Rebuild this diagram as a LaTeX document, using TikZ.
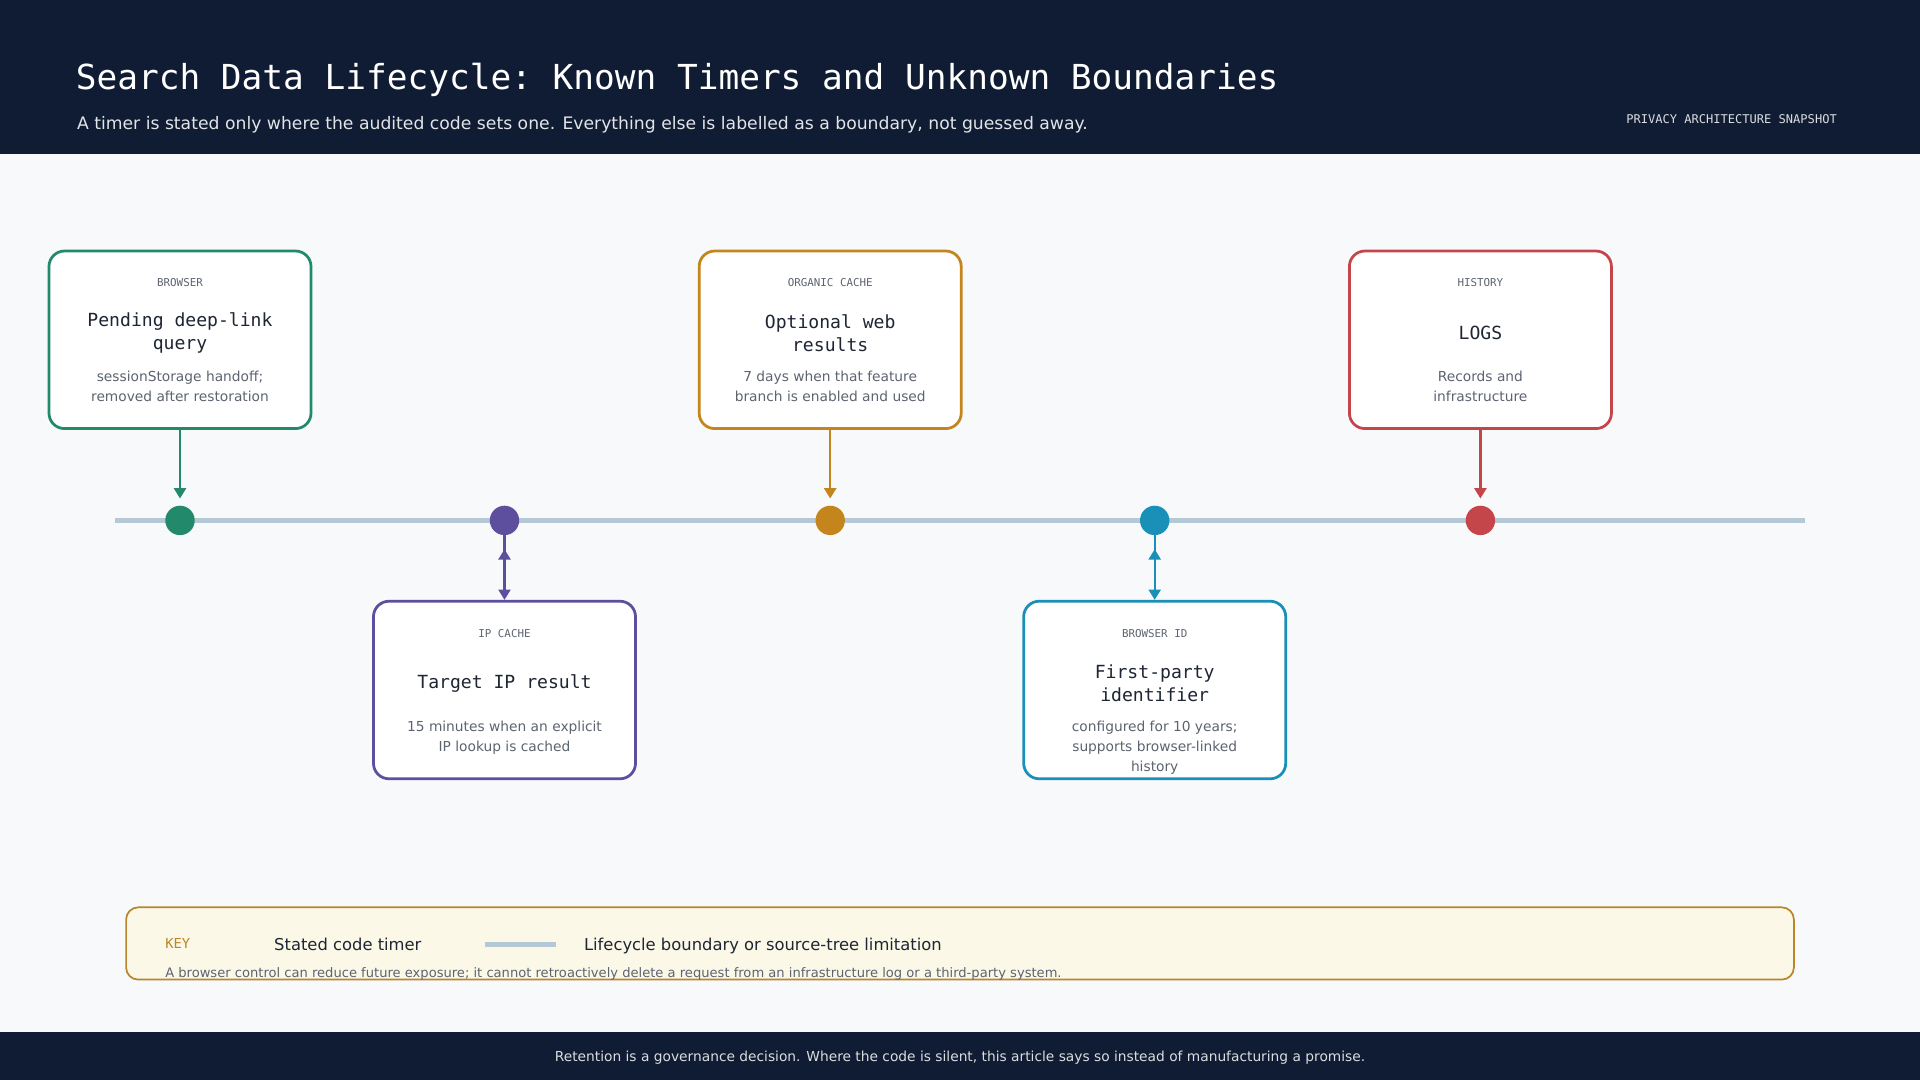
\documentclass[tikz,border=0pt]{standalone}
\usepackage{fontspec}
\setmainfont{DejaVu Sans}
\setmonofont{DejaVu Sans Mono}
\usetikzlibrary{arrows.meta}
\definecolor{navy}{HTML}{0F1C33}
\definecolor{paper}{HTML}{F7F9FB}
\definecolor{rail}{HTML}{B4C8D6}
\definecolor{ink}{HTML}{1E2633}
\definecolor{muted}{HTML}{5C6470}
\definecolor{cgreen}{HTML}{22896A}
\definecolor{cpurple}{HTML}{5E4F9E}
\definecolor{corange}{HTML}{C4851C}
\definecolor{cblue}{HTML}{1A8FB8}
\definecolor{cred}{HTML}{C4464B}
\definecolor{keyfill}{HTML}{FCF8E8}
\definecolor{keyline}{HTML}{B8862B}
\tikzset{
  stage/.style={draw=#1, line width=1.6pt, rounded corners=9pt, fill=white,
    minimum width=214*0.025cm, minimum height=145*0.025cm},
  cat/.style={font=\ttfamily\fontsize{6.3}{8}\selectfont, text=muted},
  ttl/.style={font=\ttfamily\fontsize{10.5}{13}\selectfont, text=ink, align=center},
  dsc/.style={font=\fontsize{8}{11.5}\selectfont, text=muted, align=center},
  dot/.style={circle, fill=#1, minimum size=24*0.025cm, inner sep=0pt},
  link/.style={draw=#1, line width=1.3pt, -{Triangle[length=6pt,width=7pt]}},
}
\begin{document}
\begin{tikzpicture}[x=0.025cm, y=-0.025cm]

 %background and bands
 \fill[paper] (0,0) rectangle (1568,882);
 \fill[navy] (0,0) rectangle (1568,126);
 \fill[navy] (0,843) rectangle (1568,882);
 \useasboundingbox (0,0) rectangle (1568,882);

 \node[anchor=base west, text=white, font=\ttfamily\fontsize{20}{24}\selectfont] (title) at (57,73) {Search Data Lifecycle: Known Timers and Unknown Boundaries};
 \node[anchor=base west, text=white!88!navy, font=\fontsize{10}{12}\selectfont] (subtitle) at (58,106) {A timer is stated only where the audited code sets one. Everything else is labelled as a boundary, not guessed away.};
 \node[anchor=base east, text=white!85!navy, font=\ttfamily\fontsize{7}{9}\selectfont] (tag) at (1505,101) {PRIVACY ARCHITECTURE SNAPSHOT};

 %timeline
 \coordinate (railL) at (94,425);
 \coordinate (railR) at (1474,425);
 \draw[rail, line width=3pt] (railL) -- (railR);

 %stages above the rail
 \foreach \x/\col/\name/\c/\t/\d in {
   147/cgreen/browser/BROWSER/{Pending deep-link\\query}/{sessionStorage handoff;\\removed after restoration},
   678/corange/organic/ORGANIC CACHE/{Optional web\\results}/{7 days when that feature\\branch is enabled and used},
   1209/cred/history/HISTORY / LOGS/{Records and\\infrastructure}/{no fixed duration found in\\repository; deployment and\\third parties unknown}}{
     \node[stage=\col] (\name) at (\x,277.5) {};
     \node[cat] (\name-c) at (\x,231) {\c};
     \node[ttl] (\name-t) at (\x,272) {\t};
     \node[dsc, anchor=north] (\name-d) at (\x,298) {\d};
     \node[dot=\col] (\name-p) at (\x,425) {};
     \draw[link=\col] (\name.south) -- ([yshift=4pt]\name-p.north);
 }

 %stages below the rail
 \foreach \x/\col/\name/\c/\t/\d in {
   412/cpurple/ipcache/IP CACHE/{Target IP result}/{15 minutes when an explicit\\IP lookup is cached},
   943/cblue/browserid/BROWSER ID/{First-party\\identifier}/{configured for 10 years;\\supports browser-linked\\history}}{
     \node[stage=\col] (\name) at (\x,563.5) {};
     \node[cat] (\name-c) at (\x,517) {\c};
     \node[ttl] (\name-t) at (\x,558) {\t};
     \node[dsc, anchor=north] (\name-d) at (\x,584) {\d};
     \node[dot=\col] (\name-p) at (\x,425) {};
     \draw[link=\col] (\name-p.south) ++(0,-8pt) coordinate (\name-s);
     \draw[link=\col] (\name-p.south) ++(0,-0pt) -- (\name.north);
 }

 %key
 \node[draw=keyline, line width=1pt, fill=keyfill, rounded corners=7pt,
   minimum width=1362*0.025cm, minimum height=59*0.025cm] (key) at (784,770.5) {};
 \node[anchor=base west, text=keyline, font=\ttfamily\fontsize{8}{10}\selectfont] (keyhead) at (130,775) {KEY};
 \node[anchor=base west, text=ink, font=\fontsize{9.5}{11}\selectfont] (keytimer) at (219,776) {Stated code timer};
 \coordinate (sampleL) at (396,771);
 \coordinate (sampleR) at (454,771);
 \draw[rail, line width=3pt] (sampleL) -- (sampleR);
 \node[anchor=base west, text=ink, font=\fontsize{9.5}{11}\selectfont] (keyrail) at (472,776) {Lifecycle boundary or source-tree limitation};
 \node[anchor=base west, text=muted, font=\fontsize{7.6}{9}\selectfont] (keynote) at (130,798) {A browser control can reduce future exposure; it cannot retroactively delete a request from an infrastructure log or a third-party system.};

 %footer
 \node[text=white!85!navy, font=\fontsize{8}{10}\selectfont] (footer) at (784,864) {Retention is a governance decision. Where the code is silent, this article says so instead of manufacturing a promise.};

\end{tikzpicture}
\end{document}
